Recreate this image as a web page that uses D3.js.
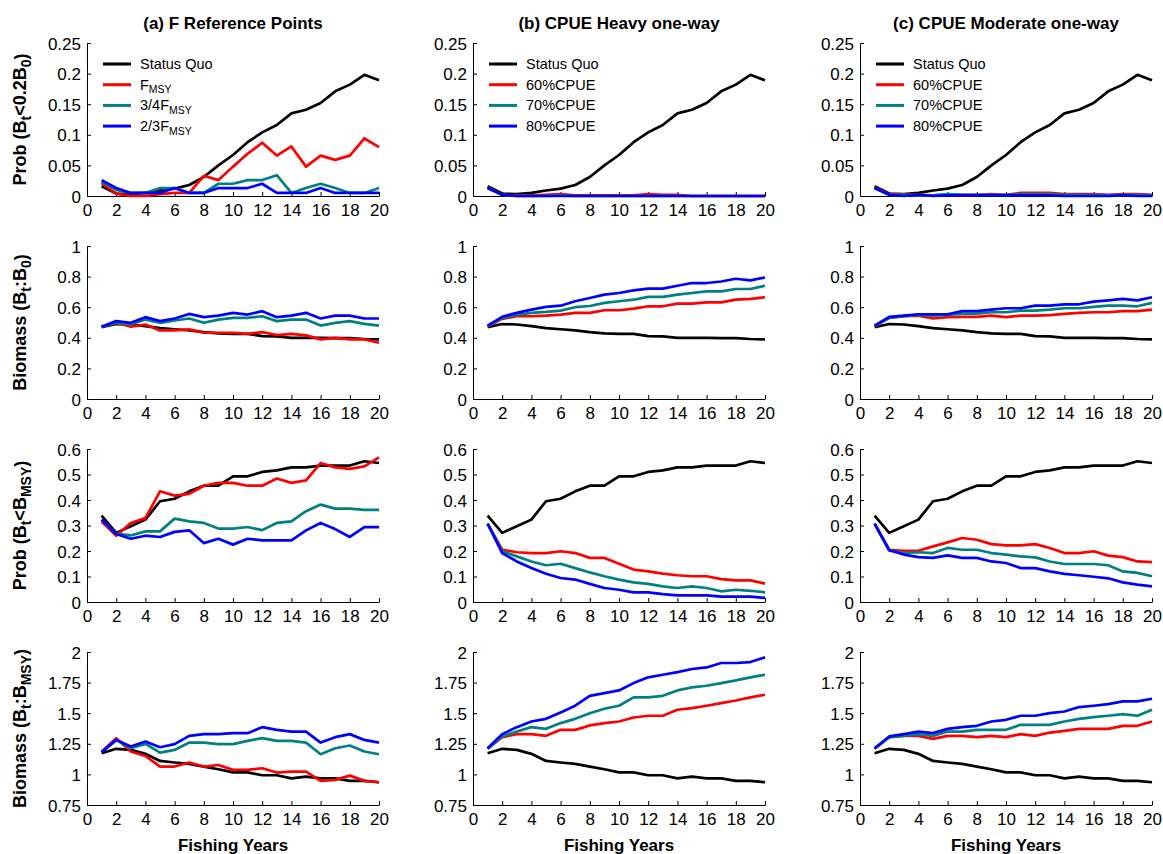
<!DOCTYPE html>
<html><head><meta charset="utf-8">
<script src="https://cdn.jsdelivr.net/npm/d3@7"></script>
<style>body{margin:0;background:#fff}svg{display:block}text{font-family:"Liberation Sans",Arial,sans-serif;fill:#000}</style>
</head><body>
<script>
// ---------- data ----------
const years = [1,2,3,4,5,6,7,8,9,10,11,12,13,14,15,16,17,18,19,20];
const xTicks = [0,2,4,6,8,10,12,14,16,18,20];
const ticksP02 = [0,0.05,0.1,0.15,0.2,0.25];
const ticksBB0 = [0,0.2,0.4,0.6,0.8,1];
const ticksPBMSY = [0,0.1,0.2,0.3,0.4,0.5,0.6];
const ticksBBMSY = [0.75,1,1.25,1.5,1.75,2];

const colTitles = ["(a) F Reference Points","(b) CPUE Heavy one-way","(c) CPUE Moderate one-way"];
const rowLabels = [
  [["Prob (B",0],["t",1],["<0.2B",0],["0",1],[")",0]],
  [["Biomass (B",0],["t",1],[":B",0],["0",1],[")",0]],
  [["Prob (B",0],["t",1],["<B",0],["MSY",1],[")",0]],
  [["Biomass (B",0],["t",1],[":B",0],["MSY",1],[")",0]]
];
const legendA = [[["Status Quo",0]],[["F",0],["MSY",1]],[["3/4F",0],["MSY",1]],[["2/3F",0],["MSY",1]]];
const legendCPUE = [[["Status Quo",0]],[["60%CPUE",0]],[["70%CPUE",0]],[["80%CPUE",0]]];
const seriesColors = ["#000000","#ff0000","#008080","#0000ff"];

// Status quo (shared)
const sq_p02 = [0.016,0.004,0.003,0.005,0.009,0.012,0.018,0.031,0.05,0.067,0.088,0.104,0.116,0.135,0.141,0.152,0.171,0.182,0.198,0.189];
const sq_bb0 = [0.47,0.49,0.487,0.476,0.463,0.456,0.448,0.437,0.429,0.426,0.426,0.411,0.409,0.4,0.4,0.4,0.398,0.398,0.392,0.39];
const sq_pbmsy = [0.339,0.271,0.297,0.323,0.395,0.405,0.434,0.456,0.456,0.493,0.493,0.51,0.516,0.528,0.528,0.535,0.535,0.535,0.552,0.545];
const sq_bbmsy = [1.173,1.209,1.2,1.168,1.11,1.097,1.086,1.064,1.042,1.017,1.017,0.993,0.993,0.968,0.982,0.968,0.968,0.947,0.947,0.936];

// (a) F reference points
const fmsy_p02 = [0.021,0.004,0,0,0.003,0.005,0.005,0.033,0.026,0.048,0.069,0.087,0.066,0.081,0.048,0.066,0.059,0.066,0.094,0.08];
const f34_p02 = [0.023,0.01,0.005,0.005,0.013,0.013,0.005,0.005,0.02,0.02,0.026,0.026,0.034,0.005,0.013,0.02,0.013,0.005,0.005,0.013];
const f23_p02 = [0.026,0.013,0.005,0.005,0.005,0.013,0.005,0.005,0.013,0.013,0.013,0.02,0.005,0.005,0.005,0.013,0.005,0.005,0.005,0.005];
const fmsy_bb0 = [0.472,0.498,0.472,0.487,0.448,0.448,0.455,0.433,0.433,0.433,0.426,0.437,0.418,0.426,0.416,0.39,0.4,0.39,0.39,0.368];
const f34_bb0 = [0.472,0.498,0.487,0.519,0.498,0.513,0.526,0.498,0.519,0.53,0.53,0.541,0.509,0.519,0.519,0.48,0.498,0.509,0.491,0.48];
const f23_bb0 = [0.472,0.509,0.498,0.535,0.509,0.526,0.556,0.535,0.545,0.563,0.552,0.574,0.535,0.545,0.563,0.526,0.545,0.545,0.526,0.526];
const fmsy_pbmsy = [0.316,0.26,0.31,0.329,0.434,0.417,0.424,0.456,0.467,0.467,0.456,0.456,0.484,0.467,0.477,0.545,0.528,0.522,0.532,0.567];
const f34_pbmsy = [0.323,0.267,0.261,0.277,0.277,0.327,0.316,0.31,0.288,0.288,0.294,0.282,0.31,0.316,0.356,0.382,0.366,0.366,0.361,0.361];
const f23_pbmsy = [0.323,0.267,0.248,0.26,0.255,0.275,0.281,0.231,0.248,0.225,0.248,0.242,0.242,0.242,0.281,0.31,0.286,0.255,0.294,0.294];
const fmsy_bbmsy = [1.187,1.296,1.187,1.151,1.064,1.064,1.097,1.064,1.077,1.037,1.037,1.05,1.015,1.023,1.023,0.947,0.955,0.99,0.947,0.936];
const f34_bbmsy = [1.181,1.282,1.214,1.249,1.178,1.2,1.26,1.26,1.247,1.247,1.274,1.296,1.274,1.274,1.26,1.165,1.214,1.236,1.187,1.165];
const f23_bbmsy = [1.181,1.282,1.228,1.269,1.222,1.247,1.315,1.329,1.329,1.337,1.337,1.386,1.364,1.35,1.35,1.26,1.304,1.329,1.282,1.26];

// (b) CPUE heavy one-way
const h60_p02 = [0.014,0.002,0.001,0.001,0.002,0.003,0.001,0.001,0.001,0.001,0.001,0.003,0.002,0.002,0,0,0,0,0,0];
const h70_p02 = [0.013,0.002,0,0,0,0.001,0,0,0,0,0,0,0,0,0,0,0,0,0,0];
const h80_p02 = [0.013,0.002,0,0,0,0,0,0,0,0,0,0,0,0,0,0,0,0,0,0];
const h60_bb0 = [0.476,0.524,0.541,0.541,0.545,0.552,0.563,0.563,0.58,0.58,0.591,0.606,0.606,0.623,0.623,0.632,0.632,0.649,0.654,0.665];
const h70_bb0 = [0.476,0.53,0.55,0.563,0.569,0.578,0.6,0.608,0.628,0.639,0.649,0.667,0.667,0.682,0.693,0.703,0.703,0.719,0.719,0.74];
const h80_bb0 = [0.48,0.537,0.563,0.584,0.602,0.61,0.639,0.66,0.682,0.693,0.71,0.721,0.721,0.74,0.758,0.758,0.768,0.786,0.775,0.794];
const h60_pbmsy = [0.307,0.205,0.195,0.192,0.192,0.199,0.192,0.173,0.173,0.15,0.127,0.12,0.111,0.105,0.101,0.101,0.09,0.085,0.085,0.072];
const h70_pbmsy = [0.307,0.199,0.179,0.159,0.144,0.15,0.133,0.116,0.101,0.088,0.077,0.071,0.061,0.055,0.061,0.055,0.042,0.048,0.044,0.038];
const h80_pbmsy = [0.307,0.192,0.159,0.133,0.111,0.094,0.088,0.071,0.055,0.048,0.038,0.038,0.031,0.026,0.026,0.026,0.021,0.021,0.021,0.016];
const h60_bbmsy = [1.209,1.304,1.329,1.329,1.315,1.364,1.364,1.4,1.419,1.432,1.465,1.479,1.479,1.528,1.541,1.561,1.582,1.604,1.629,1.651];
const h70_bbmsy = [1.209,1.31,1.35,1.386,1.372,1.419,1.454,1.5,1.536,1.561,1.629,1.629,1.642,1.686,1.711,1.724,1.746,1.768,1.793,1.814];
const h80_bbmsy = [1.214,1.329,1.386,1.432,1.454,1.506,1.561,1.642,1.664,1.686,1.746,1.793,1.814,1.836,1.861,1.874,1.91,1.91,1.918,1.956];

// (c) CPUE moderate one-way
const m60_p02 = [0.014,0.003,0.002,0.002,0.001,0.002,0.002,0.002,0.003,0.002,0.005,0.005,0.005,0.003,0.003,0.003,0.002,0.003,0.003,0.002];
const m70_p02 = [0.013,0.002,0.002,0.001,0.001,0.003,0.002,0.002,0.002,0.002,0.003,0.003,0.003,0.002,0.002,0.002,0.001,0.002,0.002,0.001];
const m80_p02 = [0.013,0.002,0,0.002,0,0.001,0.001,0.001,0.001,0.001,0.001,0.001,0.001,0,0,0,0,0.001,0,0];
const m60_bb0 = [0.476,0.53,0.541,0.545,0.526,0.535,0.537,0.537,0.545,0.535,0.545,0.545,0.548,0.556,0.563,0.567,0.567,0.574,0.574,0.584];
const m70_bb0 = [0.476,0.53,0.541,0.55,0.545,0.55,0.558,0.558,0.567,0.567,0.578,0.578,0.584,0.593,0.593,0.602,0.61,0.61,0.606,0.628];
const m80_bb0 = [0.48,0.537,0.545,0.554,0.554,0.554,0.574,0.574,0.584,0.593,0.593,0.61,0.61,0.619,0.619,0.636,0.645,0.654,0.645,0.665];
const m60_pbmsy = [0.307,0.205,0.201,0.201,0.218,0.234,0.251,0.244,0.227,0.222,0.222,0.227,0.212,0.192,0.192,0.199,0.182,0.176,0.159,0.156];
const m70_pbmsy = [0.307,0.203,0.192,0.195,0.192,0.212,0.205,0.205,0.192,0.186,0.179,0.175,0.159,0.149,0.149,0.149,0.144,0.12,0.114,0.101];
const m80_pbmsy = [0.307,0.203,0.186,0.176,0.173,0.183,0.173,0.173,0.159,0.153,0.133,0.133,0.12,0.11,0.105,0.099,0.093,0.077,0.068,0.061];
const m60_bbmsy = [1.209,1.304,1.315,1.315,1.29,1.315,1.315,1.304,1.315,1.304,1.329,1.315,1.342,1.356,1.372,1.372,1.372,1.397,1.397,1.432];
const m70_bbmsy = [1.209,1.304,1.315,1.329,1.315,1.35,1.35,1.364,1.364,1.364,1.405,1.405,1.405,1.432,1.454,1.468,1.479,1.492,1.479,1.528];
const m80_bbmsy = [1.214,1.31,1.329,1.35,1.337,1.372,1.386,1.397,1.432,1.446,1.479,1.479,1.5,1.514,1.55,1.561,1.574,1.596,1.596,1.618];

// ---------- assembly ----------
const rowTicks = [ticksP02, ticksBB0, ticksPBMSY, ticksBBMSY];
const panels = [
  [[sq_p02,fmsy_p02,f34_p02,f23_p02],[sq_p02,h60_p02,h70_p02,h80_p02],[sq_p02,m60_p02,m70_p02,m80_p02]],
  [[sq_bb0,fmsy_bb0,f34_bb0,f23_bb0],[sq_bb0,h60_bb0,h70_bb0,h80_bb0],[sq_bb0,m60_bb0,m70_bb0,m80_bb0]],
  [[sq_pbmsy,fmsy_pbmsy,f34_pbmsy,f23_pbmsy],[sq_pbmsy,h60_pbmsy,h70_pbmsy,h80_pbmsy],[sq_pbmsy,m60_pbmsy,m70_pbmsy,m80_pbmsy]],
  [[sq_bbmsy,fmsy_bbmsy,f34_bbmsy,f23_bbmsy],[sq_bbmsy,h60_bbmsy,h70_bbmsy,h80_bbmsy],[sq_bbmsy,m60_bbmsy,m70_bbmsy,m80_bbmsy]]
];
const legends = [legendA, legendCPUE, legendCPUE];

// ---------- layout ----------
const W = 1163, H = 854;
const colLeft = [87, 473, 860];
const rowTop = [43, 246, 449, 652];
const plotW = 292, plotH = 153;
const FONT = 17;

const svg = d3.select("body").append("svg").attr("width", W).attr("height", H);

function richText(sel, parts, subScale) {
  parts.forEach(([txt, sub], i) => {
    const prevSub = i > 0 && parts[i-1][1];
    const t = sel.append("tspan").text(txt);
    if (sub) t.attr("font-size", (subScale*100) + "%").attr("dy", "0.35em");
    else if (prevSub) t.attr("dy", "-0.25em");
  });
}

const fmt = d => String(+d.toFixed(2));

for (let r = 0; r < 4; r++) {
  for (let c = 0; c < 3; c++) {
    const x0 = colLeft[c], y0 = rowTop[r];
    const ticks = rowTicks[r];
    const x = d3.scaleLinear().domain([0, 20]).range([x0, x0 + plotW]);
    const y = d3.scaleLinear().domain([ticks[0], ticks[ticks.length-1]]).range([y0 + plotH, y0]);

    const gx = svg.append("g").attr("transform", `translate(0,${y0 + plotH})`)
      .call(d3.axisBottom(x).tickValues(xTicks).tickFormat(d3.format("d")).tickSizeInner(-4).tickSizeOuter(0).tickPadding(8));
    const gy = svg.append("g").attr("transform", `translate(${x0},0)`)
      .call(d3.axisLeft(y).tickValues(ticks).tickFormat(fmt).tickSizeInner(-4).tickSizeOuter(0).tickPadding(6));
    [gx, gy].forEach(g => {
      g.selectAll("text").attr("font-size", FONT).attr("font-family", '"Liberation Sans",Arial,sans-serif').attr("fill", "#000");
      g.select(".domain").attr("stroke", "#000");
      g.selectAll(".tick line").attr("stroke", "#000");
    });
    gy.selectAll("text").attr("dy", "0.36em");
    gx.selectAll("text").attr("dy", "0.72em");

    const line = d3.line().x((d, i) => x(years[i])).y(d => y(d));
    panels[r][c].forEach((s, k) => {
      svg.append("path").datum(s).attr("d", line)
        .attr("fill", "none").attr("stroke", seriesColors[k]).attr("stroke-width", 2.7)
        .attr("stroke-linejoin", "round").attr("stroke-linecap", "butt");
    });

    if (r === 0) {
      svg.append("text").attr("x", x0 + plotW/2).attr("y", 29).attr("text-anchor", "middle")
        .attr("font-size", FONT).attr("font-weight", "bold").text(colTitles[c]);
      legends[c].forEach((parts, k) => {
        const ly = y0 + 21 + k * 20.7;
        svg.append("line").attr("x1", x0 + 16).attr("x2", x0 + 44).attr("y1", ly).attr("y2", ly)
          .attr("stroke", seriesColors[k]).attr("stroke-width", 3);
        const t = svg.append("text").attr("x", x0 + 53).attr("y", ly + 5).attr("font-size", 14.5);
        richText(t, parts, 0.72);
      });
    }
    if (c === 0) {
      const t = svg.append("text").attr("transform", `translate(26,${y0 + plotH/2}) rotate(-90)`)
        .attr("text-anchor", "middle").attr("font-size", 18).attr("font-weight", "bold");
      richText(t, rowLabels[r], 0.78);
    }
    if (r === 3) {
      svg.append("text").attr("x", x0 + plotW/2).attr("y", 851).attr("text-anchor", "middle")
        .attr("font-size", FONT).attr("font-weight", "bold").text("Fishing Years");
    }
  }
}
</script>
</body></html>
